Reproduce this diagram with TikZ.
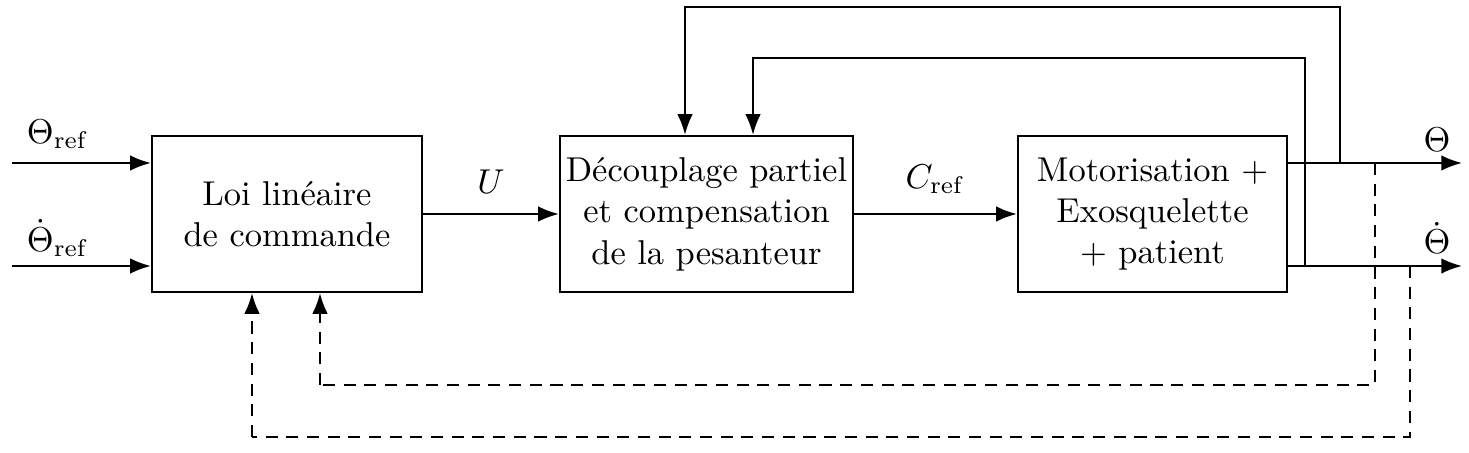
\documentclass[tikz,border=0pt]{standalone}
\usetikzlibrary{arrows.meta,calc}
\begin{document}
\begin{tikzpicture}[x=0.0102cm,y=-0.0102cm,
  blk/.style={draw,line width=0.6pt,align=center,inner sep=0pt,minimum height=1.591cm},
  arr/.style={line width=0.6pt,-{Latex[length=6pt,width=4.5pt]}},
  ln/.style={line width=0.6pt},
  dsh/.style={line width=0.6pt,dash pattern=on 3.5pt off 2.5pt},
  lbl/.style={inner sep=0pt}]
\useasboundingbox (0,0) rectangle (1469,453);
\node[blk,minimum width=2.754cm] (b1) at (287,214) {Loi linéaire\\de commande};
\node[blk,minimum width=2.989cm] (b2) at (706.5,214) {Découplage partiel\\et compensation\\de la pesanteur};
\node[blk,minimum width=2.744cm] (b3) at (1152.5,214) {Motorisation +\\Exosquelette\\+ patient};
% inputs
\coordinate (in1) at (12,163);
\coordinate (in2) at (12,266);
\draw[arr] (in1) -- (in1 -| b1.west);
\draw[arr] (in2) -- (in2 -| b1.west);
\node[lbl] (tr) at (58,134) {$\Theta_{\mathrm{ref}}$};
\node[lbl] (tdr) at (58,238) {$\dot{\Theta}_{\mathrm{ref}}$};
% main chain
\draw[arr] (b1) -- (b2) node[lbl,midway,above=5.5pt] (u) {$U$};
\draw[arr] (b2) -- (b3) node[lbl,midway,above=5.5pt] (c) {$C_{\mathrm{ref}}$};
% outputs
\coordinate (o1) at (1462,163);
\coordinate (o2) at (1462,266);
\draw[arr] (o1 -| b3.east) -- (o1);
\draw[arr] (o2 -| b3.east) -- (o2);
\node[lbl] (th) at (1437,140) {$\Theta$};
\node[lbl] (thd) at (1437,238) {$\dot{\Theta}$};
% top feedback loops
\coordinate (p1) at (1340,163);
\coordinate (p2) at (1305,266);
\draw[arr] (p1) -- (1340,7) -| (685,0 |- b2.north);
\draw[arr] (p2) -- (1305,58) -| (753,0 |- b2.north);
% dashed feedback
\coordinate (q1) at (1375,163);
\coordinate (q2) at (1410,266);
\draw[dsh] (q1) -- (1375,385) -- (320,385);
\draw[dsh,arr,dash pattern=on 3.5pt off 2.5pt] (320,385) -- (320,0 |- b1.south);
\draw[dsh] (q2) -- (1410,437) -- (252,437);
\draw[dsh,arr,dash pattern=on 3.5pt off 2.5pt] (252,437) -- (252,0 |- b1.south);
\end{tikzpicture}
\end{document}
